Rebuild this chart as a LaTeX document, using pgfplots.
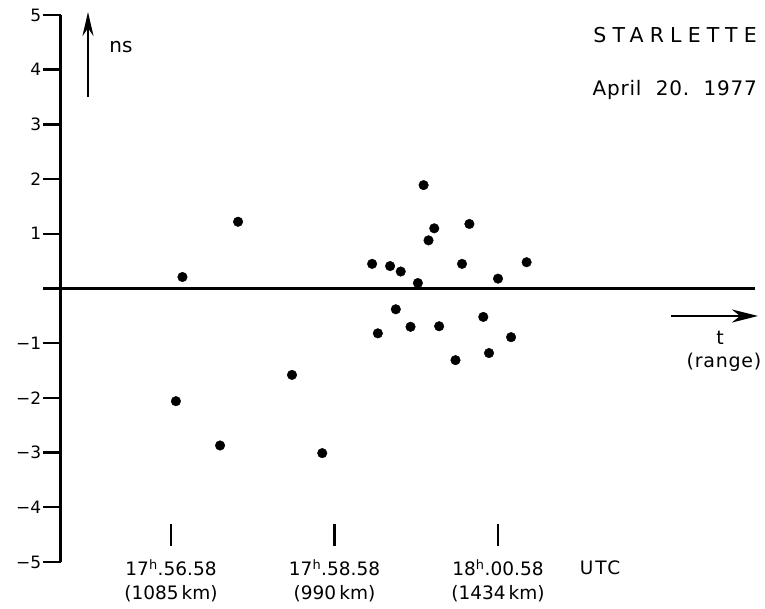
\documentclass[border=0pt]{standalone}
\usepackage{fontspec}
\setmainfont{DejaVu Sans}
\newfontfamily\spaced[LetterSpace=30]{DejaVu Sans}
\newfontfamily\spacedb[LetterSpace=10]{DejaVu Sans}
\newfontfamily\spacedc[LetterSpace=4]{DejaVu Sans}
\usepackage{pgfplots}
\pgfplotsset{compat=1.18}
\usetikzlibrary{arrows.meta}
\begin{document}
\begin{tikzpicture}
\useasboundingbox (0,0) rectangle (765pt,609pt);
\begin{axis}[
  scale only axis, width=694.5pt, height=547pt,
  at={(60.5pt,47pt)}, anchor=south west,
  xmin=-1.352, xmax=7.144, ymin=-5, ymax=5,
  axis x line=none, axis y line*=left,
  xtick=\empty,
  ytick={-5,-4,-3,-2,-1,0,1,2,3,4,5},
  yticklabels={−5,−4,−3,−2,−1,,1,2,3,4,5},
  tick align=outside, major tick length=17pt,
  every tick/.style={line width=2.4pt, black},
  y axis line style={line width=2.7pt},
  yticklabel style={font=\fontsize{17}{20}\selectfont, inner sep=2pt},
  clip=false,
]
\addplot[only marks, mark=*, mark size=4.8pt, black] coordinates {
(0.06,-2.06) (0.14,0.21) (0.60,-2.87) (0.82,1.22) (1.48,-1.58) (1.85,-3.01)
(2.46,0.45) (2.53,-0.82) (2.68,0.41) (2.75,-0.38) (2.81,0.31) (2.93,-0.70)
(3.02,0.10) (3.09,1.89) (3.15,0.88) (3.22,1.10) (3.28,-0.69) (3.48,-1.31)
(3.56,0.45) (3.65,1.18) (3.82,-0.52) (3.89,-1.18) (4.00,0.18) (4.16,-0.89)
(4.35,0.48)
};
\draw[line width=2.7pt] (axis cs:-1.352,0) -- (axis cs:7.144,0);
\draw[line width=2.7pt] (axis cs:0,-4.31) -- (axis cs:0,-4.71);
\draw[line width=2.7pt] (axis cs:2,-4.31) -- (axis cs:2,-4.71);
\draw[line width=2.7pt] (axis cs:4,-4.31) -- (axis cs:4,-4.71);
\node[font=\fontsize{18.5}{22}\selectfont] at (axis cs:0,-5.11) {17\textsuperscript{h}.56.58};
\node[font=\fontsize{18.5}{22}\selectfont] at (axis cs:2,-5.11) {17\textsuperscript{h}.58.58};
\node[font=\fontsize{18.5}{22}\selectfont] at (axis cs:4,-5.11) {18\textsuperscript{h}.00.58};
\node[font=\fontsize{18.5}{22}\selectfont] at (axis cs:0,-5.585) {(1085\,km)};
\node[font=\fontsize{18.5}{22}\selectfont] at (axis cs:2,-5.585) {(990\,km)};
\node[font=\fontsize{18.5}{22}\selectfont] at (axis cs:4,-5.585) {(1434\,km)};
\node[font=\spacedb\fontsize{18.5}{22}\selectfont] at (axis cs:5.25,-5.11) {UTC};
\end{axis}
\draw[line width=2.7pt, -{Stealth[length=24pt,width=11pt]}] (88pt,512pt) -- (88pt,597pt);
\node[font=\fontsize{20}{24}\selectfont] at (121pt,562pt) {ns};
\node[font=\spaced\fontsize{20.5}{24}\selectfont, anchor=east, inner sep=0pt] at (757pt,574pt) {STARLETTE};
\node[font=\spacedc\fontsize{20}{24}\selectfont, anchor=east, inner sep=0pt] at (757pt,519pt) {April\ \ 20.\ \ 1977};
\draw[line width=2.5pt, -{Stealth[length=26pt,width=13pt,inset=8pt]}] (671pt,293pt) -- (758pt,293pt);
\node[font=\fontsize{19}{22}\selectfont] at (720pt,271pt) {t};
\node[font=\spacedc\fontsize{19}{22}\selectfont] at (724pt,247pt) {(range)};
\end{tikzpicture}
\end{document}
